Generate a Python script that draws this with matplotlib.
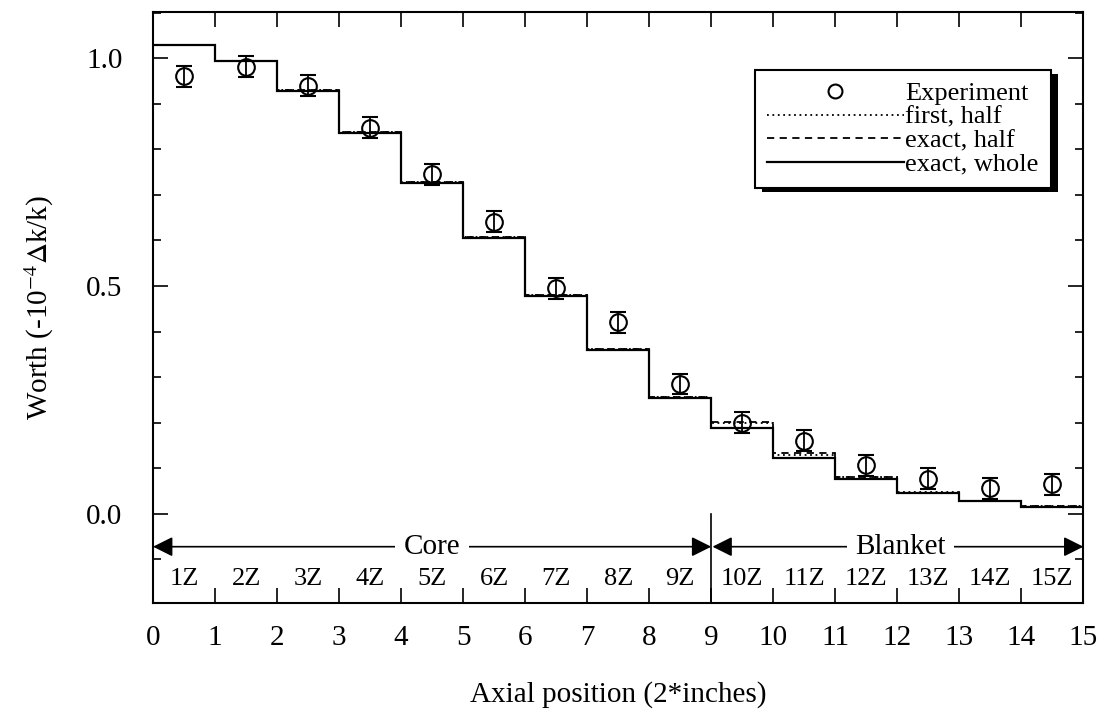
import numpy as np
import matplotlib.pyplot as plt
from matplotlib.lines import Line2D
from matplotlib.ticker import MultipleLocator

plt.rcParams['font.family'] = ['Liberation Serif', 'DejaVu Serif']
plt.rcParams['mathtext.fontset'] = 'stix'

# zone edges and labels
edges = np.arange(0, 16)
zones = ["1Z", "2Z", "3Z", "4Z", "5Z", "6Z", "7Z", "8Z", "9Z",
         "10Z", "11Z", "12Z", "13Z", "14Z", "15Z"]

# measured worth (center of each zone) and error
exp_x = np.arange(0.5, 15, 1.0)
exp_y = [0.960, 0.981, 0.939, 0.847, 0.745, 0.641, 0.495, 0.420, 0.285,
         0.200, 0.160, 0.107, 0.077, 0.056, 0.065]
exp_err = [0.023] * 15

# calculated worth per zone
first_half = [1.030, 0.994, 0.931, 0.838, 0.729, 0.608, 0.481, 0.362, 0.257,
              0.200, 0.130, 0.082, 0.047, 0.029, 0.017]
exact_half = [1.030, 0.994, 0.930, 0.838, 0.729, 0.607, 0.480, 0.361, 0.256,
              0.202, 0.133, 0.080, 0.046, 0.029, 0.017]
exact_whole = [1.028, 0.993, 0.929, 0.836, 0.727, 0.606, 0.479, 0.360, 0.254,
               0.189, 0.123, 0.077, 0.045, 0.028, 0.016]

fig = plt.figure(figsize=(11.01, 7.15), dpi=100)
ax = fig.add_axes([0.139, 0.157, 0.845, 0.826])

l1 = ax.stairs(first_half, edges, baseline=None, color='black', lw=1.3,
               linestyle=(0, (1, 2)))
l2 = ax.stairs(exact_half, edges, baseline=None, color='black', lw=1.3,
               linestyle=(0, (4, 3)))
l3 = ax.stairs(exact_whole, edges, baseline=None, color='black', lw=1.6)
ax.errorbar(exp_x, exp_y, yerr=exp_err, fmt='o', mfc='none', mec='black',
            ms=12, mew=1.5, ecolor='black', elinewidth=1.3, capsize=6,
            capthick=1.6)

ax.set_xlim(0, 15)
ax.set_ylim(-0.195, 1.101)

# region arrows and zone names
arrow_y = -0.072
ax.annotate('', xy=(0, arrow_y), xytext=(9, arrow_y),
            arrowprops=dict(arrowstyle='<|-|>', color='black', lw=1.2,
                            mutation_scale=30, shrinkA=0, shrinkB=0))
ax.annotate('', xy=(9.02, arrow_y), xytext=(15, arrow_y),
            arrowprops=dict(arrowstyle='<|-|>', color='black', lw=1.2,
                            mutation_scale=30, shrinkA=0, shrinkB=0))
ax.text(4.5, arrow_y, 'Core', ha='center', va='center', fontsize=21,
        bbox=dict(facecolor='white', edgecolor='none', pad=6), zorder=5)
ax.text(12.05, arrow_y, 'Blanket', ha='center', va='center', fontsize=21,
        bbox=dict(facecolor='white', edgecolor='none', pad=6), zorder=5)
ax.plot([9, 9], [0.0, -0.195], color='black', lw=1.2)
for x, z in zip(exp_x, zones):
    ax.text(x, -0.142, z, ha='center', va='center', fontsize=19)

# ticks
ax.xaxis.set_major_locator(MultipleLocator(1))
ax.yaxis.set_minor_locator(MultipleLocator(0.1))
ax.set_yticks([0.0, 0.5, 1.0])
ax.set_yticklabels(['0.0', '0.5', '1.0'])
ax.tick_params(axis='x', which='major', direction='in', top=True, bottom=True,
               length=11, width=1.2, pad=16, labelsize=21)
ax.tick_params(axis='y', which='major', direction='in', left=True, right=True,
               length=11, width=1.2, pad=22, labelsize=21)
ax.tick_params(axis='y', which='minor', direction='in', left=True, right=True,
               length=6, width=1.2)
for s in ax.spines.values():
    s.set_linewidth(1.5)

ax.set_xlabel('Axial position (2*inches)', fontsize=21, labelpad=22)
ax.set_ylabel(r'Worth (-10$^{-4}$$\Delta$k/k)', fontsize=21, labelpad=22)

exp_handle = Line2D([], [], marker='o', linestyle='none', mfc='none',
                    mec='black', ms=10, mew=1.5)
leg = ax.legend([exp_handle, l1, l2, l3],
                ['Experiment', 'first, half', 'exact, half', 'exact, whole'],
                loc='upper left', bbox_to_anchor=(0.647, 0.902),
                fontsize=19, frameon=True, fancybox=False,
                shadow={'color': 'black', 'alpha': 1.0, 'linewidth': 0,
                        'ox': 5, 'oy': -3},
                handlelength=5.2, handletextpad=0.05, labelspacing=0.0,
                borderpad=0.45, borderaxespad=0)
leg.get_frame().set_edgecolor('black')
leg.get_frame().set_linewidth(1.5)

fig.savefig('out.png', dpi=100)
